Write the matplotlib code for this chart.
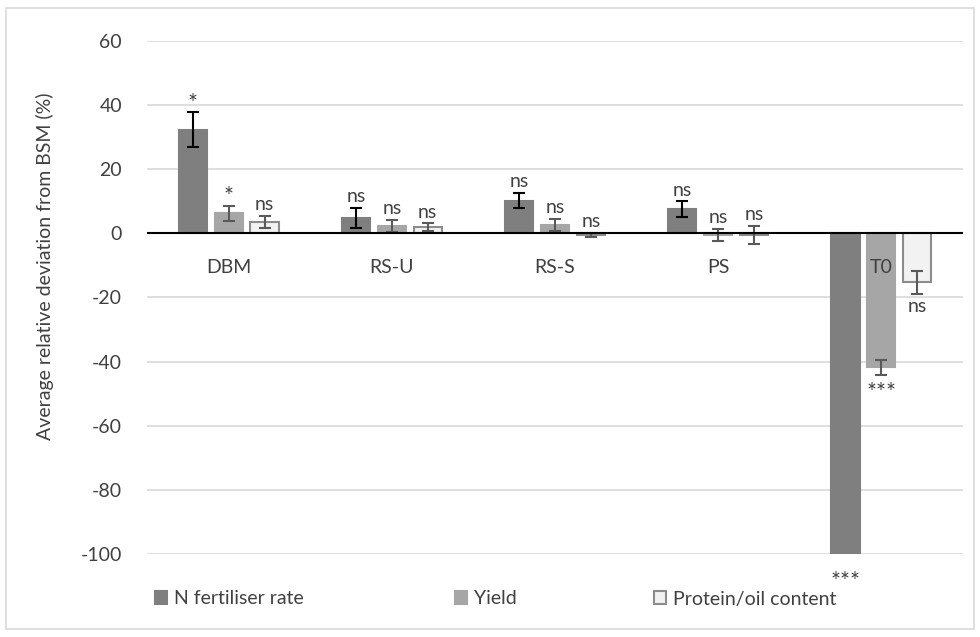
import numpy as np
import matplotlib.pyplot as plt
from matplotlib.patches import Rectangle

plt.rcParams['font.family'] = ['Lato', 'DejaVu Sans']

categories = ['DBM', 'RS-U', 'RS-S', 'PS', 'T0']
series = ['N fertiliser rate', 'Yield', 'Protein/oil content']

n_rate = [32.3, 4.8, 10.2, 7.5, -100]
n_err = [5.5, 3.2, 2.4, 2.5, 0]
yield_ = [6.3, 2.3, 2.6, -0.5, -41.8]
yield_err = [2.3, 2.0, 1.8, 1.8, 2.3]
protein = [3.6, 1.9, -0.5, -0.5, -15.3]
protein_err = [1.8, 1.2, 0.6, 2.8, 3.5]

n_sig = ['*', 'ns', 'ns', 'ns', '***']
yield_sig = ['*', 'ns', 'ns', 'ns', '***']
protein_sig = ['ns', 'ns', 'ns', 'ns', 'ns']

yticks = [60, 40, 20, 0, -20, -40, -60, -80, -100]

W, H = 980, 637
fig = plt.figure(figsize=(9.8, 6.37), dpi=100)
ax = fig.add_axes([0.15, 0.1303, 0.8327, 0.8054])

x = np.arange(len(categories)) + 0.5
w = 0.172
off = 0.22

txt = '#404040'
fs = 14
styles = [
    dict(fc='#7f7f7f', ec='#7f7f7f', ecol='black'),
    dict(fc='#a6a6a6', ec='#a6a6a6', ecol='#595959'),
    dict(fc='#f2f2f2', ec='#8c8c8c', ecol='#595959'),
]
data = [(n_rate, n_err, n_sig), (yield_, yield_err, yield_sig), (protein, protein_err, protein_sig)]

handles = []
for k, (vals, errs, sigs) in enumerate(data):
    st = styles[k]
    xs = x + (k - 1) * off
    b = ax.bar(xs, vals, w, color=st['fc'], edgecolor=st['ec'], linewidth=1.5, zorder=3, label=series[k])
    handles.append(b)
    has = [e > 0 for e in errs]
    ax.errorbar(xs[has], np.array(vals)[has], yerr=np.array(errs)[has], fmt='none',
                ecolor=st['ecol'], elinewidth=1.5,
                capsize=4.5 if k == 0 else 4, capthick=1.5, zorder=4)
    for xi, v, e, s in zip(xs, vals, errs, sigs):
        star = s != 'ns'
        size = fs + 3 if star else fs
        if v >= 0 or (v > -1 and e > abs(v)):
            ax.annotate(s, (xi, v + e), xytext=(0, -1 if star else 2), textcoords='offset points',
                        ha='center', va='bottom', fontsize=size, color=txt)
        else:
            low = v - e
            dy = -3 if not star else -5
            if low <= -100:
                low, dy = -100, -12
            ax.annotate(s, (xi, low), xytext=(0, dy), textcoords='offset points',
                        ha='center', va='top', fontsize=size,
                        color=txt, annotation_clip=False)

for xi, c in zip(x, categories):
    ax.text(xi, -10.5, c, ha='center', va='center', fontsize=fs, color=txt)

ax.set_xlim(0, len(categories))
ax.set_ylim(-100, 60)
ax.set_yticks(yticks)
ax.set_yticklabels([str(t) for t in yticks])
ax.set_xticks([])
ax.tick_params(axis='y', length=0, pad=18, labelsize=fs, labelcolor=txt)
for t in yticks:
    if t != 0:
        ax.axhline(t, color='#d9d9d9', lw=1.2, zorder=1)
ax.axhline(0, color='black', lw=1.5, zorder=5)
for s in ax.spines.values():
    s.set_visible(False)

fig.text(45 / W, 1 - 266 / H, 'Average relative deviation from BSM (%)', rotation=90,
         ha='center', va='center', fontsize=fs, color=txt)

# legend entries placed one by one, like the Excel legend
leg_x = [155, 455, 654]
for h, lab, lx in zip(handles, series, leg_x):
    fig.legend([h], [lab], loc='center left', bbox_to_anchor=(lx / W, 1 - 599 / H),
               frameon=False, fontsize=fs, handlelength=0.6, handleheight=0.6,
               handletextpad=0.4, borderpad=0, borderaxespad=0, labelcolor=txt)

fig.patches.append(Rectangle((0.006, 0.012), 0.988, 0.975, transform=fig.transFigure,
                             fill=False, ec='#d9d9d9', lw=1.2))

fig.savefig('out.png', dpi=100)
